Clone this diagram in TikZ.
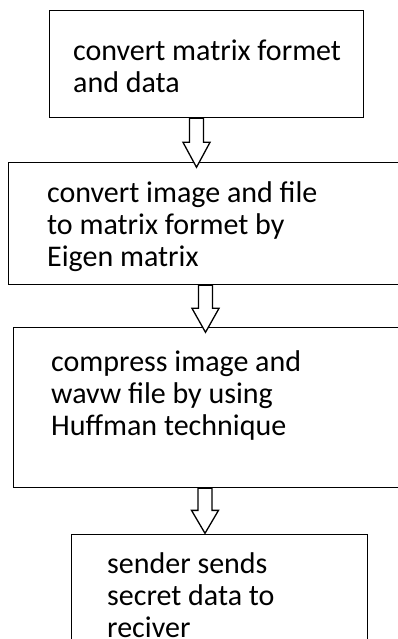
\documentclass[tikz,border=0pt]{standalone}
\usepackage{fontspec}
\setmainfont{Carlito}
\usetikzlibrary{calc}
\tikzset{
  box/.style={draw=black, line width=1.3pt, fill=white, rectangle, inner sep=0pt, anchor=north west},
  txt/.style={anchor=base west, inner sep=0pt, font=\fontsize{30}{32}\selectfont},
  arrowline/.style={draw=black, line width=1.3pt, fill=white, line join=miter},
  pics/barrow/.style={code={
    \draw[arrowline] (-7,0) -- (-7,#1*0.49) -- (-13.5,#1*0.49) -- (0,#1) -- (13.5,#1*0.49) -- (7,#1*0.49) -- (7,0) -- cycle;}}
}
\begin{document}
\begin{tikzpicture}[x=1pt,y=-1pt]
\useasboundingbox (0,0) rectangle (398,639);
\clip (0,0) rectangle (398,639);
\node[box, minimum width=314pt, minimum height=107pt] (b1) at (49,10) {};
\node[box, minimum width=410pt, minimum height=122pt] (b2) at (8,162) {};
\node[box, minimum width=410pt, minimum height=160pt] (b3) at (13,327) {};
\node[box, minimum width=296pt, minimum height=130pt] (b4) at (71,534) {};
\pic at ($(b1.south west)+(147.5,0)$) {barrow=49};
\pic at ($(b2.south west)+(197.5,0)$) {barrow=47};
\pic at ($(b3.south west)+(192,0)$) {barrow=45};
\node[txt] (t1) at (73,61) {\parbox[t]{320pt}{\raggedright convert matrix formet\\and data}};
\node[txt] (t2) at (47,202) {\parbox[t]{340pt}{\raggedright convert image and file\\to matrix formet by\\Eigen matrix}};
\node[txt] (t3) at (51,371) {\parbox[t]{340pt}{\raggedright compress image and\\wavw file by using\\Huffman technique}};
\node[txt] (t4) at (107,573) {\parbox[t]{280pt}{\raggedright sender sends\\secret data to\\reciver}};
\end{tikzpicture}
\end{document}
